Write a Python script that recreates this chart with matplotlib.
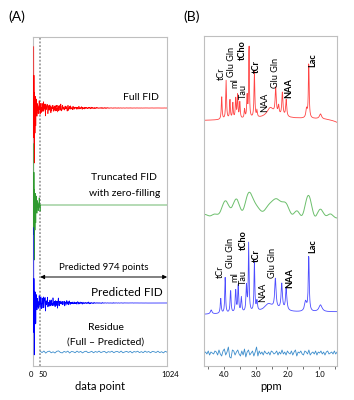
import numpy as np
import matplotlib.pyplot as plt
from matplotlib.transforms import ScaledTranslation

plt.rcParams['font.family'] = ['Lato', 'DejaVu Sans']

# acquisition
n_points = 1024
n_measured = 50
sw_ppm = 15.6
ref_ppm = 4.7

# full spectrum peaks: position (ppm), height (px), width (FWHM, ppm), phase (deg)
full_ppm = [4.07, 3.93, 3.81, 3.72, 3.63, 3.57, 3.50, 3.35, 3.27, 3.21, 3.04, 2.96,
            2.54, 2.37, 2.28, 2.16, 2.04, 1.40, 1.33, 0.96, 2.40, 0.20, 9.9]
full_height = [23, 39, 19, 16, 21, 24, 17, 9, 22, 75, 46, 7,
               9, 26, 9, 24, 17, 9, 56, 5, 3, -8, 58]
full_width = [0.03, 0.03, 0.03, 0.03, 0.03, 0.03, 0.03, 0.03, 0.03, 0.025, 0.03, 0.03,
              0.25, 0.04, 0.04, 0.04, 0.04, 0.05, 0.03, 0.08, 0.8, 0.6, 0.58]
full_phase = [0] * 22 + [60]

# predicted spectrum peaks
pred_ppm = [4.40, 4.10, 3.96, 3.79, 3.63, 3.55, 3.45, 3.29, 3.22, 3.04, 2.96,
            2.60, 2.38, 2.18, 2.04, 1.43, 1.33, 0.96, 2.40, 9.9]
pred_height = [4, 15, 36, 23, 23, 27, 15, 26, 70, 50, 10,
               7, 30, 26, 22, 10, 56, 7, 3, 58]
pred_width = [0.06, 0.035, 0.03, 0.035, 0.035, 0.035, 0.035, 0.035, 0.03, 0.03, 0.04,
              0.3, 0.05, 0.05, 0.05, 0.08, 0.035, 0.12, 0.8, 0.58]
pred_phase = [0] * 19 + [60]

# residue traces (px)
residue_fid = [0.8, -0.6, 1.0, -1.1, 0.4, 0.9, -0.8, 0.2, -1.0, 0.7, 1.1, -0.5, -0.9, 0.6,
               -0.3, 0.9, -1.0, 0.5, 0.2, -0.7, 0.9, -0.4, 0.6, -0.9, 0.3, 0.8, -0.6, -0.2,
               0.7, -0.8, 0.5, -0.3, 0.9, -0.6, 0.2, 0.6, -0.9, 0.4, -0.2, 0.8, -0.7, 0.3,
               0.5, -0.5, 0.9, -0.8, 0.1, 0.6, -0.4, 0.7, -0.9, 0.5, -0.1, 0.8, -0.6, 0.4,
               -0.7, 0.9, -0.3, 0.5, -0.8, 0.6, 0.2, -0.5, 0.8, -0.6, 0.3, -0.9, 0.7, -0.2]
residue_spec = [0, 1, -1, 2, -2, 1, 0, -1, 2, 1, -2, 3, -1, -3, 2, 4, -2, 1, 6, -4,
                -5, 3, 2, -2, 1, 3, -1, -3, 2, -2, 4, -4, 1, 3, -2, 0, 2, -3, 1, 6,
                -3, 2, -1, 1, -2, 2, 0, -1, 1, -2, 2, 1, -1, 0, 2, -2, 1, -1, 3, -1,
                1, -2, 2, 0, -1, 2, -2, 1, 3, -3, 1, 0, 2, -1, -2, 2, 1, -1, 3, -2,
                0, 1, -1, 2, -2, 1, 0, 2, -1, 1, -2, 1, 2, -1, 0, 1, -1, 2, -1, 1]

# metabolite labels
label_names = ['tCr', 'Glu Gln', 'mI', 'Tau', 'tCho', 'tCr', 'NAA', 'Glu Gln', 'NAA', 'Lac']
label_bold = [False, False, False, False, True, True, False, False, True, True]
full_label_ppm = [4.07, 3.77, 3.655, 3.38, 3.41, 2.98, 2.73, 2.38, 1.97, 1.19]
full_label_y = [286, 289, 278, 267, 306, 293, 254, 278, 268, 299]
pred_label_ppm = [4.10, 3.79, 3.66, 3.38, 3.39, 2.98, 2.77, 2.46, 1.94, 1.19]
pred_label_y = [88, 98, 84, 81, 116, 104, 64, 88, 78, 113]


def make_fid(ppm, height, width, phase):
    n = np.arange(n_points)
    fid = np.zeros(n_points, dtype=complex)
    for p, h, w, ph in zip(ppm, height, width, phase):
        t2 = sw_ppm / (np.pi * w)
        amp = h * (1 - np.exp(-1 / t2)) * np.exp(1j * np.radians(ph))
        f = (p - ref_ppm) / sw_ppm
        fid += amp * np.exp((2j * np.pi * f - 1 / t2) * n)
    return fid


def make_spec(fid, zf=2048):
    s = np.zeros(zf, dtype=complex)
    s[:len(fid)] = fid
    s[0] *= 0.5
    spec = np.fft.fftshift(np.fft.fft(s)).real
    ppm = ref_ppm + np.fft.fftshift(np.fft.fftfreq(zf)) * sw_ppm
    return ppm, spec


fid_full = make_fid(full_ppm, full_height, full_width, full_phase)
fid_pred = make_fid(pred_ppm, pred_height, pred_width, pred_phase)
fid_trunc = fid_full.copy()
fid_trunc[n_measured:] = 0

ppm_ax, spec_full = make_spec(fid_full)
_, spec_pred = make_spec(fid_pred)
_, spec_trunc = make_spec(fid_trunc)

fig = plt.figure(figsize=(3.54, 4.0), dpi=100)
axA = fig.add_axes([0.093, 0.085, 0.379, 0.8225])
axB = fig.add_axes([0.576, 0.085, 0.377, 0.825])

n = np.arange(n_points)
gain = 10
axA.plot(n, 258 + gain * fid_full.real, color='#ff0000', lw=0.5, zorder=3)
axA.plot(n, 161 + gain * fid_trunc.real, color='#2f9a2f', lw=0.5, zorder=3)
axA.plot(n, 63 + gain * fid_pred.real, color='#0000ff', lw=0.5, zorder=3)
axA.plot(np.linspace(n_measured, n_points, len(residue_fid)), 14 + np.array(residue_fid),
         color='#3c8dcc', lw=0.6)
axA.axvline(n_measured, color='#8c8c8c', lw=1.1, ls=(0, (1.2, 1.2)))
axA.annotate('', xy=(n_points, 89), xytext=(n_measured, 89),
             arrowprops=dict(arrowstyle='<|-|>', color='black', lw=0.7,
                             mutation_scale=6, shrinkA=0, shrinkB=0))
axA.set_xlim(-6, n_points)
axA.set_ylim(0, 329)
axA.text(962, 269, 'Full FID', ha='right', va='center', fontsize=7.5)
axA.text(689, 188, 'Truncated FID', ha='center', va='center', fontsize=7.5)
axA.text(697, 173, 'with zero-filling', ha='center', va='center', fontsize=7.5)
axA.text(539, 98, 'Predicted 974 points', ha='center', va='center', fontsize=7)
axA.text(993, 73, 'Predicted FID', ha='right', va='center', fontsize=8.5)
axA.text(554, 38, 'Residue', ha='center', va='center', fontsize=7.5)
axA.text(554, 24, '(Full \u2013 Predicted)', ha='center', va='center', fontsize=7.5)
axA.set_yticks([])
axA.set_xticks([0, n_measured, n_points])
axA.set_xticklabels(['0', '50', '1024'])
axA.tick_params(axis='x', length=0, pad=3.5, labelsize=5.5)
for lab, dx in zip(axA.get_xticklabels(), [-3, 2.5, 3]):
    lab.set_transform(lab.get_transform() + ScaledTranslation(dx / 100, 0, fig.dpi_scale_trans))
axA.set_xlabel('data point', fontsize=8, labelpad=2)

axB.plot(ppm_ax, 247 + spec_full, color='#ff4444', lw=0.6)
axB.plot(ppm_ax, 152 + spec_trunc, color='#6cbf6c', lw=0.7)
axB.plot(ppm_ax, 53 + spec_pred, color='#4c4cff', lw=0.6)
axB.plot(np.linspace(4.62, 0.44, len(residue_spec)), 13 + np.array(residue_spec),
         color='#3c8dcc', lw=0.6)
for name, bold, p, y in zip(label_names, label_bold, full_label_ppm, full_label_y):
    axB.text(p, y, name, rotation=90, ha='center', va='bottom', fontsize=6.6,
             fontweight='bold' if bold else 'normal')
for name, bold, p, y in zip(label_names, label_bold, pred_label_ppm, pred_label_y):
    axB.text(p, y, name, rotation=90, ha='center', va='bottom', fontsize=6.6,
             fontweight='bold' if bold else 'normal')
axB.set_xlim(4.63, 0.43)
axB.set_ylim(0, 330)
axB.set_yticks([])
ticks = np.arange(0.5, 4.51, 0.5)
axB.set_xticks(ticks)
axB.set_xticklabels(['%.1f' % t if t % 1 == 0 else '' for t in ticks])
axB.tick_params(axis='x', length=2, width=0.6, color='#555555', pad=1.5, labelsize=5.5)
axB.set_xlabel('ppm', fontsize=8, labelpad=2)

for ax in (axA, axB):
    for sp in ax.spines.values():
        sp.set_color('#bfbfbf')
        sp.set_linewidth(0.8)

fig.text(0.048, 0.9575, '(A)', ha='center', va='center', fontsize=10)
fig.text(0.541, 0.9575, '(B)', ha='center', va='center', fontsize=10)

fig.savefig('out.png', dpi=100)
